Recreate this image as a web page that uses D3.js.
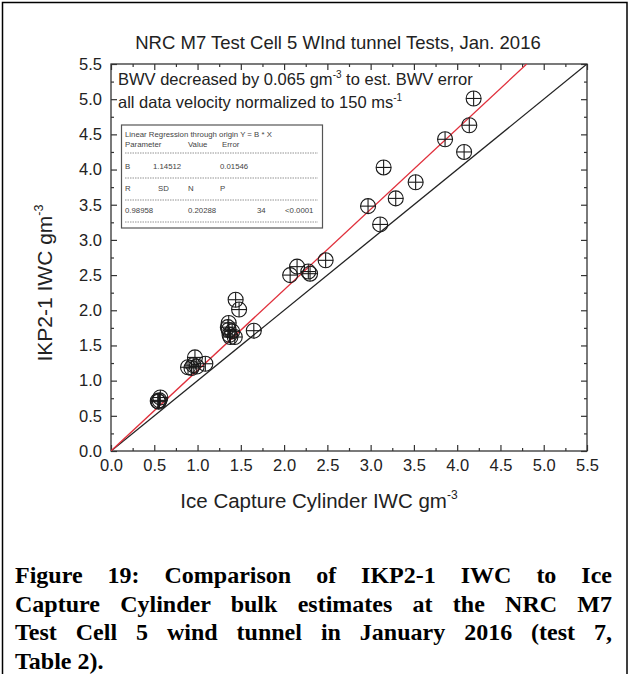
<!DOCTYPE html>
<html>
<head>
<meta charset="utf-8">
<script src="https://cdn.jsdelivr.net/npm/d3@7"></script>
<style>
  body { margin: 0; background: #fff; }
  #wrap { position: relative; width: 629px; height: 674px; overflow: hidden; }
  #caption { position: absolute; left: 15px; top: 561px; width: 597px;
    font-family: 'Liberation Serif', 'Times New Roman', serif; font-weight: bold;
    font-size: 24px; line-height: 28.5px; color: #000; }
  #caption div { text-align: justify; text-align-last: justify; white-space: nowrap; }
  #caption div.last { text-align-last: left; }
</style>
</head>
<body>
<div id="wrap">
  <svg id="chart" width="629" height="674"></svg>
  <div id="caption"></div>
</div>
<script>
// Ice Capture Cylinder IWC (x) vs IKP2-1 IWC (y), gm^-3
const iccIwc = [0.54, 0.56, 0.57, 0.55,
  0.89, 0.93, 0.97, 0.99, 1.09, 0.95,
  1.36, 1.36, 1.37, 1.38, 1.43, 1.44, 1.48, 1.65, 1.40, 1.35,
  2.07, 2.15, 2.28, 2.30, 2.48,
  4.19, 4.14, 3.86, 4.08, 3.15, 3.52, 3.29, 2.97, 3.11];
const ikpIwc = [0.71, 0.72, 0.76, 0.70,
  1.19, 1.18, 1.33, 1.20, 1.24, 1.22,
  1.82, 1.72, 1.65, 1.62, 1.62, 2.15, 2.01, 1.71, 1.70, 1.76,
  2.50, 2.62, 2.55, 2.52, 2.71,
  5.01, 4.63, 4.43, 4.25, 4.03, 3.82, 3.59, 3.48, 3.22];

const slopeB = 1.14512;
const tickLabels = ['0.0', '0.5', '1.0', '1.5', '2.0', '2.5', '3.0', '3.5', '4.0', '4.5', '5.0', '5.5'];
const tableRows = [
  ['Linear Regression through origin Y = B * X'],
  ['Parameter', 'Value', 'Error'],
  ['B', '1.14512', '0.01546'],
  ['R', 'SD', 'N', 'P'],
  ['0.98958', '0.20288', '34', '<0.0001']
];
const captionLines = [
  'Figure 19:  Comparison of IKP2-1 IWC to Ice',
  'Capture Cylinder bulk estimates at the NRC M7',
  'Test Cell 5 wind tunnel in January 2016 (test 7,',
  'Table 2).'
];

const svg = d3.select('#chart');
const font = "'Liberation Sans', Arial, sans-serif";
const plotLeft = 111, plotRight = 587, plotTop = 64, plotBottom = 451;

const x = d3.scaleLinear().domain([0, 5.5]).range([plotLeft, plotRight]);
const y = d3.scaleLinear().domain([0, 5.5]).range([plotBottom, plotTop]);

// outer frame
svg.append('rect')
  .attr('x', 2.5).attr('y', 2.5).attr('width', 624.5).attr('height', 690)
  .attr('fill', 'none').attr('stroke', '#000').attr('stroke-width', 1.5);

// title
svg.append('text')
  .attr('x', 338).attr('y', 49)
  .attr('text-anchor', 'middle')
  .style('font-family', font).style('font-size', '18.5px').attr('fill', '#222')
  .text('NRC M7 Test Cell 5 WInd tunnel Tests, Jan. 2016');

const majors = tickLabels.map((d) => +d);
const minors = majors.slice(0, -1).map((d) => d + 0.25);

function styleAxis(g) {
  g.select('.domain').remove();
  g.selectAll('line').attr('stroke', '#333').attr('stroke-width', 1.2);
  g.selectAll('text').style('font-family', font).style('font-size', '16.5px').attr('fill', '#222');
}

const fmt = (d) => d.toFixed(1);

svg.append('g').attr('transform', `translate(0,${plotBottom})`)
  .call(d3.axisBottom(x).tickValues(majors).tickFormat(fmt).tickSize(-6).tickPadding(8))
  .call(styleAxis);
svg.append('g').attr('transform', `translate(0,${plotBottom})`)
  .call(d3.axisBottom(x).tickValues(minors).tickFormat('').tickSize(-3))
  .call(styleAxis);
svg.append('g').attr('transform', `translate(0,${plotTop})`)
  .call(d3.axisTop(x).tickValues(majors).tickFormat('').tickSize(-6))
  .call(styleAxis);
svg.append('g').attr('transform', `translate(0,${plotTop})`)
  .call(d3.axisTop(x).tickValues(minors).tickFormat('').tickSize(-3))
  .call(styleAxis);

svg.append('g').attr('transform', `translate(${plotLeft},0)`)
  .call(d3.axisLeft(y).tickValues(majors).tickFormat(fmt).tickSize(-6).tickPadding(9))
  .call(styleAxis);
svg.append('g').attr('transform', `translate(${plotLeft},0)`)
  .call(d3.axisLeft(y).tickValues(minors).tickFormat('').tickSize(-3))
  .call(styleAxis);
svg.append('g').attr('transform', `translate(${plotRight},0)`)
  .call(d3.axisRight(y).tickValues(majors).tickFormat('').tickSize(-6))
  .call(styleAxis);
svg.append('g').attr('transform', `translate(${plotRight},0)`)
  .call(d3.axisRight(y).tickValues(minors).tickFormat('').tickSize(-3))
  .call(styleAxis);

// plot frame
svg.append('rect')
  .attr('x', plotLeft).attr('y', plotTop).attr('width', plotRight - plotLeft).attr('height', plotBottom - plotTop)
  .attr('fill', 'none').attr('stroke', '#333').attr('stroke-width', 1.3);

svg.append('clipPath').attr('id', 'clip')
  .append('rect').attr('x', plotLeft).attr('y', plotTop)
  .attr('width', plotRight - plotLeft).attr('height', plotBottom - plotTop);

const plot = svg.append('g').attr('clip-path', 'url(#clip)');

// 1:1 line and regression line
plot.append('line')
  .attr('x1', x(0)).attr('y1', y(0)).attr('x2', x(5.5)).attr('y2', y(5.5))
  .attr('stroke', '#222').attr('stroke-width', 1.3);
plot.append('line')
  .attr('x1', x(0)).attr('y1', y(0)).attr('x2', x(5.5 / slopeB)).attr('y2', y(5.5))
  .attr('stroke', '#e0303c').attr('stroke-width', 1.3);

// points: circle with cross
const pts = iccIwc.map((d, i) => ({ x: d, y: ikpIwc[i] }));
const r = 7.5;
const marks = plot.selectAll('g.pt').data(pts).enter().append('g')
  .attr('class', 'pt')
  .attr('transform', (d) => `translate(${x(d.x)},${y(d.y)})`);
marks.append('circle').attr('r', r).attr('fill', 'none').attr('stroke', '#1a1a1a').attr('stroke-width', 1.1);
marks.append('line').attr('x1', -r).attr('x2', r).attr('stroke', '#1a1a1a').attr('stroke-width', 1.1);
marks.append('line').attr('y1', -r).attr('y2', r).attr('stroke', '#1a1a1a').attr('stroke-width', 1.1);

// annotations
const note1 = svg.append('text').attr('x', 118).attr('y', 85)
  .style('font-family', font).style('font-size', '16.5px').attr('fill', '#222');
note1.append('tspan').text('BWV decreased by 0.065 gm');
note1.append('tspan').attr('dy', -7).style('font-size', '10px').text('-3');
note1.append('tspan').attr('dy', 7).text(' to est. BWV error');

const note2 = svg.append('text').attr('x', 118).attr('y', 108)
  .style('font-family', font).style('font-size', '16.5px').attr('fill', '#222');
note2.append('tspan').text('all data velocity normalized to 150 ms');
note2.append('tspan').attr('dy', -7).style('font-size', '10px').text('-1');

// regression table
const tbl = svg.append('g');
tbl.append('rect').attr('x', 121.5).attr('y', 125).attr('width', 201).attr('height', 103)
  .attr('fill', '#fff').attr('stroke', '#555').attr('stroke-width', 1.2);
const colX = [[125], [125, 188, 222], [125, 153, 220], [125, 158, 188, 220], [125, 188, 257, 285]];
const rowY = [137, 147, 169, 191, 213];
tableRows.forEach((row, i) => {
  row.forEach((cell, j) => {
    tbl.append('text').attr('x', colX[i][j]).attr('y', rowY[i])
      .style('font-family', font).style('font-size', '7.8px').attr('fill', '#444')
      .text(cell);
  });
});
[153, 178, 200, 222].forEach((ly) => {
  tbl.append('line').attr('x1', 125).attr('x2', 318).attr('y1', ly).attr('y2', ly)
    .attr('stroke', '#777').attr('stroke-width', 0.8).attr('stroke-dasharray', '1.5,1');
});

// axis titles
const xt = svg.append('text').attr('x', 319).attr('y', 508).attr('text-anchor', 'middle')
  .style('font-family', font).style('font-size', '20.5px').attr('fill', '#222');
xt.append('tspan').text('Ice Capture Cylinder IWC gm');
xt.append('tspan').attr('dy', -9).style('font-size', '12px').text('-3');

const yt = svg.append('text').attr('transform', 'translate(52,283) rotate(-90)').attr('text-anchor', 'middle')
  .style('font-family', font).style('font-size', '21px').attr('fill', '#222');
yt.append('tspan').text('IKP2-1 IWC gm');
yt.append('tspan').attr('dy', -9).style('font-size', '12.5px').text('-3');

// caption
d3.select('#caption').selectAll('div').data(captionLines).enter().append('div')
  .attr('class', (d, i) => (i === captionLines.length - 1 ? 'last' : null))
  .text((d) => d);
</script>
</body>
</html>
